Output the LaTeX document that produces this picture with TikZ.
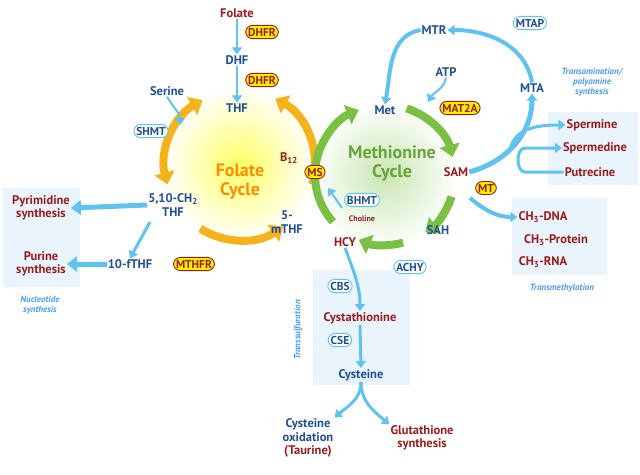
\documentclass[tikz,border=0pt]{standalone}
\usepackage{fontspec}
\setmainfont{PT Sans}
\usetikzlibrary{arrows.meta,shapes.geometric,calc}
\definecolor{dblue}{HTML}{1F4E9A}
\definecolor{dred}{HTML}{9B1C1C}
\definecolor{lblue}{HTML}{5EC3F0}
\definecolor{boxbg}{HTML}{EAF4FC}
\definecolor{gold}{HTML}{F6B21B}
\definecolor{grn}{HTML}{7AC143}
\begin{document}
\begin{tikzpicture}[x=1pt,y=1pt,
 bl/.style={text=dblue,font=\bfseries\fontsize{12.5}{13.5}\selectfont,align=center,inner sep=1pt},
 rd/.style={text=dred,font=\bfseries\fontsize{12.5}{13.5}\selectfont,align=center,inner sep=1pt},
 enz/.style={draw=dred,fill=yellow,text=dred,rounded corners=7pt,font=\bfseries\fontsize{11.5}{12}\selectfont,inner sep=2.5pt,line width=0.9pt},
 enzb/.style={draw=lblue,fill=white,text=dblue,rounded corners=7pt,font=\bfseries\fontsize{11.5}{12}\selectfont,inner sep=2.5pt,line width=0.9pt},
 it/.style={text=lblue!80!blue,font=\bfseries\itshape\fontsize{9}{10}\selectfont,align=center},
 ba/.style={draw=lblue,line width=3pt,-{Triangle[length=7pt,width=10pt]}},
 ya/.style={draw=gold,line width=8pt,-{Triangle[length=12pt,width=20pt]}},
 ga/.style={draw=grn,line width=8pt,-{Triangle[length=12pt,width=20pt]}}]
\useasboundingbox (0,0) rectangle (640,-474);
% glows
\shade[inner color=yellow!60,outer color=white] (240,-165) circle (78);
\shade[inner color=grn!40,outer color=white] (385,-175) circle (74);
% boxes
\fill[boxbg] (3,-188) rectangle (80,-287);
\fill[boxbg] (548,-112) rectangle (638,-185);
\fill[boxbg] (512,-198) rectangle (607,-275);
\fill[boxbg] (313,-270) rectangle (410,-385);
% folate cycle arrows
\draw[ya,{Triangle[length=12pt,width=20pt]}-{Triangle[length=12pt,width=20pt]}] ($(240,-165)+(195:75)$) arc[start angle=195,end angle=120,radius=75];
\draw[ya] ($(240,-165)+(238:75)$) arc[start angle=238,end angle=305,radius=75];
\draw[ya] ($(240,-165)+(345:75)$) arc[start angle=-15,end angle=62,radius=75];
% methionine cycle arrows
\draw[ga] ($(385,-175)+(222:70)$) arc[start angle=222,end angle=112,radius=70];
\draw[ga] ($(385,-175)+(72:70)$) arc[start angle=72,end angle=15,radius=70];
\draw[ga] ($(385,-175)+(-18:70)$) arc[start angle=-18,end angle=-55,radius=70];
\draw[ga] ($(385,-175)+(-75:70)$) arc[start angle=-75,end angle=-112,radius=70];
% nodes
\node[rd] (folate) at (237,-13) {Folate};
\node[enz] (dhfr1) at (262,-32) {DHFR};
\node[bl] (dhf) at (237,-60) {DHF};
\node[enz] (dhfr2) at (262,-80) {DHFR};
\node[bl] (thf) at (237,-108) {THF};
\node[bl] (serine) at (167,-91) {Serine};
\node[enzb] (shmt) at (151,-131) {SHMT};
\node[text=orange!90!yellow,font=\bfseries\fontsize{18}{19}\selectfont,align=center] (fc) at (240,-182) {Folate\\Cycle};
\node[rd] (b12) at (289,-158) {B\textsubscript{12}};
\node[enz] (ms) at (315,-172) {MS};
\node[bl] (ch2) at (173,-205) {5,10-CH\textsubscript{2}\\THF};
\node[bl] (mthf) at (287,-222) {5-\\{}mTHF};
\node[bl] (fthf) at (130,-264) {10-fTHF};
\node[enz] (mthfr) at (194,-264) {MTHFR};
\node[rd] (pyr) at (41,-208) {Pyrimidine\\synthesis};
\node[rd] (pur) at (41,-264) {Purine\\synthesis};
\node[it] (nuc) at (40,-305) {Nucleotide\\synthesis};
\node[text=grn!85!black,font=\bfseries\fontsize{18}{19}\selectfont,align=center] (mc) at (392,-163) {Methionine\\Cycle};
\node[bl] (met) at (385,-110) {Met};
\node[bl] (atp) at (446,-72) {ATP};
\node[enz] (mat) at (460,-108) {MAT2A};
\node[rd] (sam) at (456,-172) {SAM};
\node[enz] (mt) at (486,-188) {MT};
\node[bl] (sah) at (438,-230) {SAH};
\node[enzb] (achy) at (410,-267) {ACHY};
\node[rd] (hcy) at (345,-242) {HCY};
\node[enzb] (bhmt) at (362,-200) {BHMT};
\node[text=dred,font=\bfseries\fontsize{8}{9}\selectfont] (chol) at (362,-219) {Choline};
\node[bl] (mtr) at (434,-30) {MTR};
\node[enzb] (mtap) at (530,-23) {MTAP};
\node[bl] (mta) at (532,-88) {MTA};
\node[it] (trans) at (592,-82) {Transamination/\\polyamine\\synthesis};
\node[rd] (sperm) at (592,-125) {Spermine};
\node[rd] (sperd) at (595,-148) {Spermedine};
\node[rd] (put) at (590,-172) {Putrecine};
\node[rd] (dna) at (543,-217) {CH\textsubscript{3}-DNA};
\node[rd] (prot) at (556,-240) {CH\textsubscript{3}-Protein};
\node[rd] (rna) at (543,-262) {CH\textsubscript{3}-RNA};
\node[it] (tm) at (562,-288) {Transmethylation};
\node[it,rotate=90] (tsul) at (298,-330) {Transsulfuration};
\node[enzb] (cbs) at (340,-286) {CBS};
\node[rd] (cysta) at (360,-318) {Cystathionine};
\node[enzb] (cse) at (340,-340) {CSE};
\node[bl] (cys) at (361,-375) {Cysteine};
\node[bl] (cysox) at (308,-438) {Cysteine\\oxidation\\\textcolor{dred}{(Taurine)}};
\node[rd] (glu) at (422,-438) {Glutathione\\synthesis};
% blue arrows
\draw[ba,line width=2pt] (folate) -- (dhf);
\draw[ba,line width=2pt] (dhf) -- (thf);
\draw[ba,line width=2pt] (serine.south) to[out=-60,in=90] (180,-125);
\draw[ba,line width=5pt,-{Triangle[length=10pt,width=15pt]}] (ch2.west) -- (pyr.east);
\draw[ba] (150,-222) -- (fthf.north);
\draw[ba,line width=5pt,-{Triangle[length=10pt,width=15pt]}] (fthf.west) -- (pur.east);
\draw[ba,line width=4pt] (mta.north) to[out=100,in=0] (mtr.east);
\draw[ba,line width=4pt] (mtr.west) to[out=190,in=80] (met.north);
\draw[ba,line width=2pt] (atp.south) to[out=-100,in=60] (428,-102);
\draw[ba,line width=5pt] (sam.east) to[out=15,in=-90] (mta.south);
\draw[ba,line width=3pt] (510,-150) to[out=80,in=180] (sperm.west);
\draw[ba,line width=3pt] (put.west) -- (525,-172) to[out=180,in=180] (525,-148) -- (sperd.west);
\draw[ba,line width=4pt] (470,-198) to[out=-40,in=180] (dna.west);
\draw[ba,line width=2pt] (bhmt.west) ++(-2,-8) -- (328,-188);
\draw[ba,line width=3pt] (hcy.south) to[out=-70,in=90] (cysta.north);
\draw[ba,line width=3pt] (cysta.south) -- (cys.north);
\draw[ba,line width=3pt] (cys.south) to[out=-90,in=40] (cysox.north east);
\draw[ba,line width=3pt] (cys.south) to[out=-90,in=140] (glu.north west);
\end{tikzpicture}
\end{document}
